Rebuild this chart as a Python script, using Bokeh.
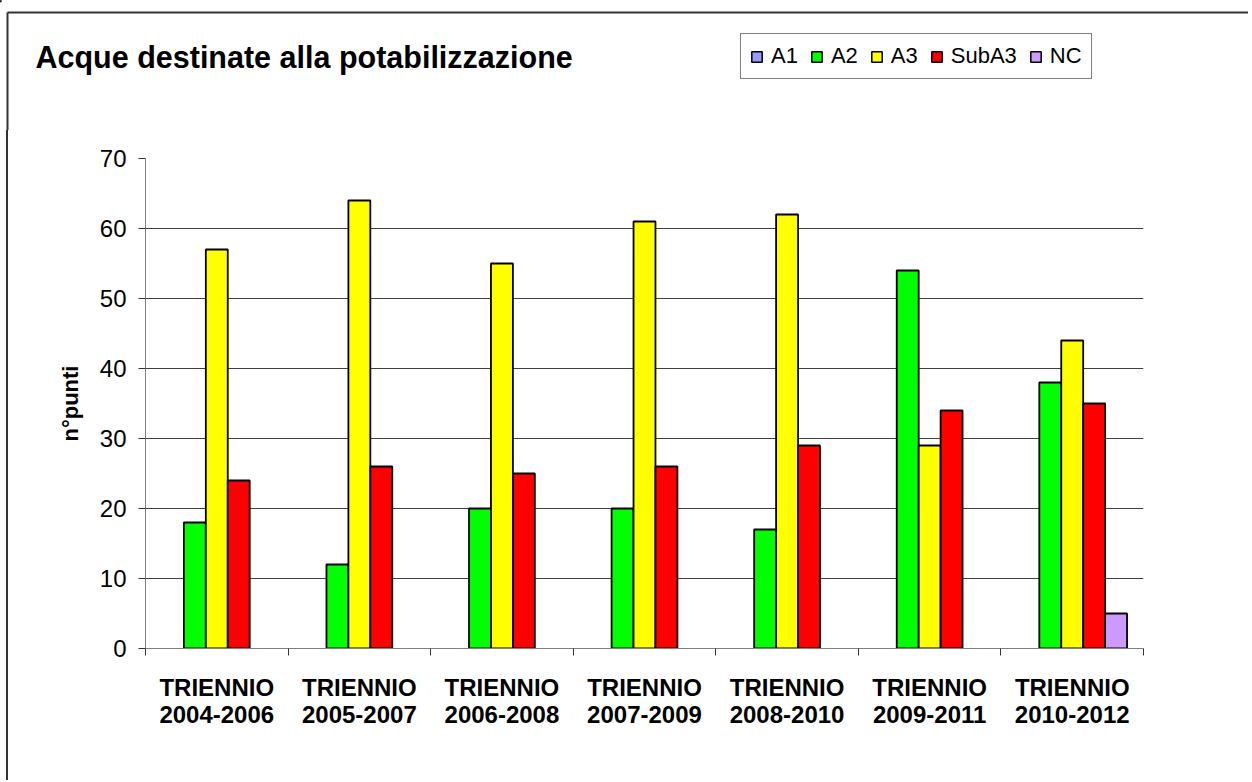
from bokeh.plotting import figure
from bokeh.layouts import column, row
from bokeh.models import (Range1d, FixedTicker, LinearAxis, Legend, LegendItem,
                          ColumnDataSource, CDSView, BooleanFilter, Div)
from bokeh.core.properties import value
from bokeh.embed import file_html
from bokeh.resources import INLINE

# ---- data ----
categories = ["TRIENNIO\n2004-2006", "TRIENNIO\n2005-2007", "TRIENNIO\n2006-2008",
              "TRIENNIO\n2007-2009", "TRIENNIO\n2008-2010", "TRIENNIO\n2009-2011",
              "TRIENNIO\n2010-2012"]
series_names = ["A1", "A2", "A3", "SubA3", "NC"]
a1 = [0, 0, 0, 0, 0, 0, 0]
a2 = [18, 12, 20, 20, 17, 54, 38]
a3 = [57, 64, 55, 61, 62, 29, 44]
suba3 = [24, 26, 25, 26, 29, 34, 35]
nc = [0, 0, 0, 0, 0, 0, 5]
y_ticks = [0, 10, 20, 30, 40, 50, 60, 70]
colors = ["#9999FF", "#00FF00", "#FFFF00", "#FF0000", "#CC99FF"]
title_text = "Acque destinate alla potabilizzazione"
y_title = "n°punti"

FONT = "Liberation Sans"
TOTAL_W = 1248
HEAD_H = 130
STRIP_W = 8
MAIN_W = TOTAL_W - STRIP_W
MAIN_H = 650
BORDER = "#333333"

# ---------- header: title, legend, frame border ----------
head = figure(width=TOTAL_W, height=HEAD_H, x_range=Range1d(0, TOTAL_W),
              y_range=Range1d(HEAD_H, 0), output_backend="svg", toolbar_location=None,
              x_axis_location=None, y_axis_location=None, min_border=0)
head.outline_line_color = None
head.grid.visible = False
head.background_fill_color = "white"
head.border_fill_color = "white"
head.segment(x0=[7, 7], y0=[12, 12], x1=[TOTAL_W, 7], y1=[12, HEAD_H],
             line_color=BORDER, line_width=2)
head.text(x=[35], y=[56], text=[title_text], text_font=value(FONT),
          text_font_size="30.5px", text_font_style="bold", text_baseline="middle",
          text_color="black")

legend_items = []
for name, col in zip(series_names, colors):
    # legend swatch carriers, kept outside the visible header range
    r = head.vbar(x=[-500], top=[1], width=1, fill_color=col, line_color="black",
                  line_width=1.5)
    legend_items.append(LegendItem(label=name, renderers=[r]))
legend = Legend(items=legend_items, orientation="horizontal", location=(740, HEAD_H - 79))
legend.label_text_font = FONT
legend.label_text_font_size = "22px"
legend.label_text_color = "black"
legend.label_height = 24
legend.glyph_width = 13
legend.glyph_height = 13
legend.label_standoff = 8
legend.spacing = 12
legend.padding = 9
legend.margin = 0
legend.border_line_color = "black"
legend.border_line_width = 1
legend.background_fill_color = "white"
legend.background_fill_alpha = 1
head.add_layout(legend, "center")

# ---------- left strip carrying the left frame border ----------
strip = Div(text="", width=STRIP_W, height=MAIN_H, margin=(0, 0, 0, 0),
            styles={"box-sizing": "border-box", "border-right": "2px solid " + BORDER,
                    "background": "white", "padding": "0px"})

# ---------- main chart ----------
n = len(categories)
p = figure(width=MAIN_W, height=MAIN_H, x_range=Range1d(0, n), y_range=Range1d(0, 70),
           output_backend="svg", toolbar_location=None,
           x_axis_location=None, y_axis_location=None,
           min_border_left=137, min_border_right=105, min_border_top=28, min_border_bottom=132)
p.outline_line_color = None
p.background_fill_color = "white"
p.border_fill_color = "white"

yax = LinearAxis(ticker=FixedTicker(ticks=y_ticks))
yax.axis_line_color = "#808080"
yax.major_tick_line_color = "#333333"
yax.major_tick_out = 7
yax.major_tick_in = 0
yax.minor_tick_line_color = None
yax.major_label_text_font = FONT
yax.major_label_text_font_size = "24px"
yax.major_label_text_color = "black"
yax.major_label_standoff = 12
yax.axis_label = y_title
yax.axis_label_text_font = FONT
yax.axis_label_text_font_size = "22px"
yax.axis_label_text_font_style = "bold"
yax.axis_label_text_color = "black"
yax.axis_label_standoff = 14
p.add_layout(yax, "left")

# boundary ticks
xax = LinearAxis(ticker=FixedTicker(ticks=list(range(n + 1))))
xax.major_label_overrides = {i: "" for i in range(n + 1)}
xax.major_label_text_font_size = "0px"
xax.major_label_standoff = 0
xax.axis_line_color = "#808080"
xax.major_tick_line_color = "#333333"
xax.major_tick_out = 7
xax.major_tick_in = 0
xax.minor_tick_line_color = None
p.add_layout(xax, "below")

# category labels
centers = [i + 0.5 for i in range(n)]
lax = LinearAxis(ticker=FixedTicker(ticks=centers))
lax.major_label_overrides = {c: lab for c, lab in zip(centers, categories)}
lax.axis_line_color = None
lax.major_tick_line_color = None
lax.minor_tick_line_color = None
lax.major_tick_out = 0
lax.major_tick_in = 0
lax.major_label_text_font = FONT
lax.major_label_text_font_size = "24px"
lax.major_label_text_font_style = "bold"
lax.major_label_text_color = "black"
lax.major_label_text_line_height = 1.0
lax.major_label_standoff = 18
p.add_layout(lax, "below")

p.ygrid.ticker = FixedTicker(ticks=y_ticks)
p.ygrid.grid_line_color = "#404040"
p.ygrid.grid_line_width = 1
p.xgrid.grid_line_color = None

bw = 1.0 / 6.5
series = [a1, a2, a3, suba3, nc]
for k, (name, vals, col) in enumerate(zip(series_names, series, colors)):
    src = ColumnDataSource(dict(x=[i + 0.5 + (k - 2) * bw for i in range(n)], top=vals))
    view = CDSView(filter=BooleanFilter([v > 0 for v in vals]))
    p.vbar(x="x", top="top", bottom=0, width=bw, source=src, view=view,
           fill_color=col, line_color="black", line_width=1.8)

layout = column(head, row(strip, p, spacing=0), spacing=0)

open("out.html", "w").write(file_html(layout, INLINE))
